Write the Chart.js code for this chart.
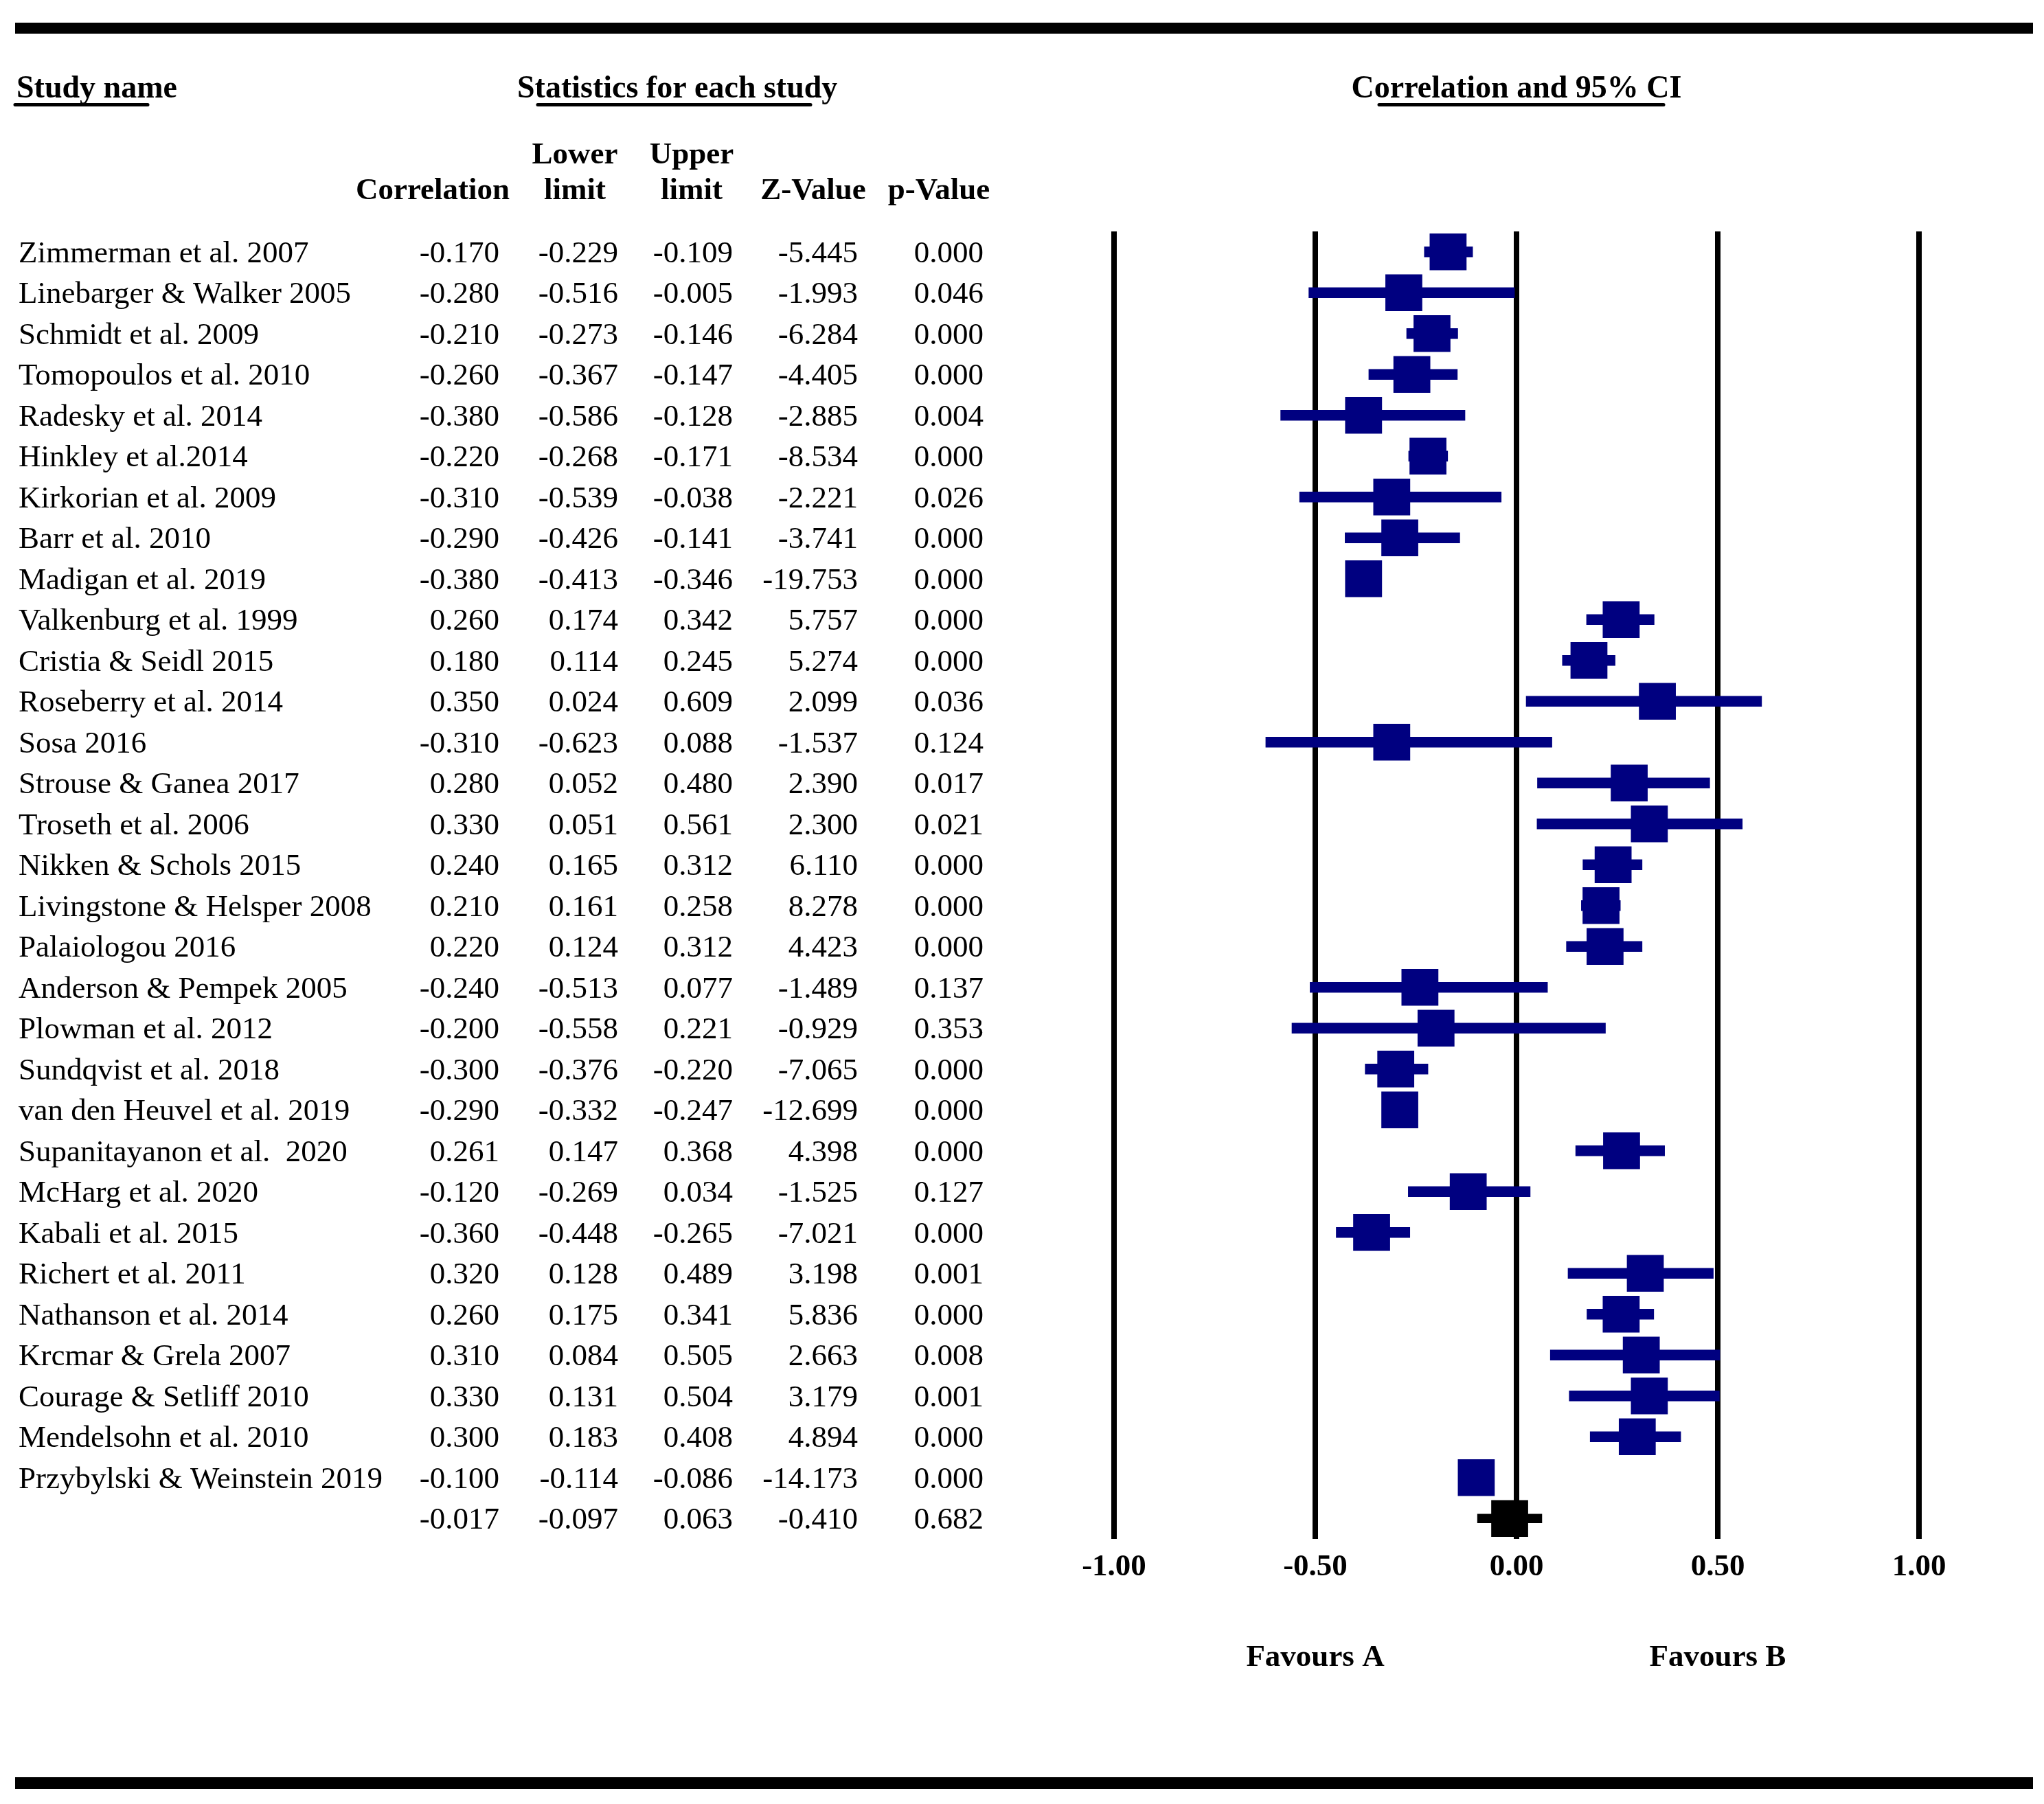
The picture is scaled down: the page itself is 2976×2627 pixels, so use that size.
<!DOCTYPE html>
<html>
<head>
<meta charset="utf-8">
<title>Correlation and 95% CI</title>
<script src="https://cdn.jsdelivr.net/npm/chart.js@4.4.1/dist/chart.umd.min.js"></script>
<style>
  html, body { margin: 0; padding: 0; background: #fff; }
  #forest-chart { display: block; }
</style>
</head>
<body>
<canvas id="forest-chart" width="2976" height="2627"></canvas>
<script>
// ------------------------------------------------------
// @Data (last row = combined effect, no study name)
// ------------------------------------------------------
const studies = [
  'Zimmerman et al. 2007', 'Linebarger & Walker 2005', 'Schmidt et al. 2009', 'Tomopoulos et al. 2010',
  'Radesky et al. 2014', 'Hinkley et al.2014', 'Kirkorian et al. 2009', 'Barr et al. 2010',
  'Madigan et al. 2019', 'Valkenburg et al. 1999', 'Cristia & Seidl 2015', 'Roseberry et al. 2014',
  'Sosa 2016', 'Strouse & Ganea 2017', 'Troseth et al. 2006', 'Nikken & Schols 2015',
  'Livingstone & Helsper 2008', 'Palaiologou 2016', 'Anderson & Pempek 2005', 'Plowman et al. 2012',
  'Sundqvist et al. 2018', 'van den Heuvel et al. 2019', 'Supanitayanon et al.  2020', 'McHarg et al. 2020',
  'Kabali et al. 2015', 'Richert et al. 2011', 'Nathanson et al. 2014', 'Krcmar & Grela 2007',
  'Courage & Setliff 2010', 'Mendelsohn et al. 2010', 'Przybylski & Weinstein 2019', '',
];
const correlation = [
  -0.170, -0.280, -0.210, -0.260, -0.380, -0.220, -0.310, -0.290, -0.380, 0.260, 0.180, 0.350,
  -0.310, 0.280, 0.330, 0.240, 0.210, 0.220, -0.240, -0.200, -0.300, -0.290, 0.261, -0.120,
  -0.360, 0.320, 0.260, 0.310, 0.330, 0.300, -0.100, -0.017,
];
const lowerLimit = [
  -0.229, -0.516, -0.273, -0.367, -0.586, -0.268, -0.539, -0.426, -0.413, 0.174, 0.114, 0.024,
  -0.623, 0.052, 0.051, 0.165, 0.161, 0.124, -0.513, -0.558, -0.376, -0.332, 0.147, -0.269,
  -0.448, 0.128, 0.175, 0.084, 0.131, 0.183, -0.114, -0.097,
];
const upperLimit = [
  -0.109, -0.005, -0.146, -0.147, -0.128, -0.171, -0.038, -0.141, -0.346, 0.342, 0.245, 0.609,
  0.088, 0.480, 0.561, 0.312, 0.258, 0.312, 0.077, 0.221, -0.220, -0.247, 0.368, 0.034,
  -0.265, 0.489, 0.341, 0.505, 0.504, 0.408, -0.086, 0.063,
];
const zValue = [
  -5.445, -1.993, -6.284, -4.405, -2.885, -8.534, -2.221, -3.741, -19.753, 5.757, 5.274, 2.099,
  -1.537, 2.390, 2.300, 6.110, 8.278, 4.423, -1.489, -0.929, -7.065, -12.699, 4.398, -1.525,
  -7.021, 3.198, 5.836, 2.663, 3.179, 4.894, -14.173, -0.410,
];
const pValue = [
  0.000, 0.046, 0.000, 0.000, 0.004, 0.000, 0.026, 0.000, 0.000, 0.000, 0.000, 0.036,
  0.124, 0.017, 0.021, 0.000, 0.000, 0.000, 0.137, 0.353, 0.000, 0.000, 0.000, 0.127,
  0.000, 0.001, 0.000, 0.008, 0.001, 0.000, 0.000, 0.682,
];
const headerTop = ['', 'Lower', 'Upper', '', ''];
const headerBottom = ['Correlation', 'limit', 'limit', 'Z-Value', 'p-Value'];
const favours = ['Favours A', 'Favours B'];
const favoursAt = [-0.5, 0.5];

// ------------------------------------------------------
// @Styles / layout
// ------------------------------------------------------
const NAVY = '#000080';
const SERIF = '"Liberation Serif", "Times New Roman", serif';
const summaryRow = studies.length - 1;
const colRight = [727, 900, 1067, 1249, 1432];
const headCenter = [630, 837, 1007, 1184, 1367];

const studyBars = lowerLimit.map((lo, i) => (i === summaryRow ? null : [lo, upperLimit[i]]));
const summaryBars = lowerLimit.map((lo, i) => (i === summaryRow ? [lo, upperLimit[i]] : null));
const points = correlation.map((r, i) => ({ x: r, y: studies[i] }));

const tablePlugin = {
  id: 'forestTable',
  beforeDraw(chart) {
    const ctx = chart.ctx;
    ctx.save();
    ctx.fillStyle = '#fff';
    ctx.fillRect(0, 0, chart.width, chart.height);
    ctx.restore();
  },
  afterDraw(chart) {
    const ctx = chart.ctx;
    const xs = chart.scales.x;
    const ys = chart.scales.y;
    ctx.save();
    ctx.fillStyle = '#000';
    ctx.strokeStyle = '#000';

    // heavy rules top & bottom
    ctx.fillRect(22, 33, 2938, 16);
    ctx.fillRect(22, 2588, 2938, 17);

    // section headers
    ctx.font = 'bold 46px ' + SERIF;
    ctx.textBaseline = 'alphabetic';
    ctx.textAlign = 'left';
    ctx.fillText('Study name', 24, 142);
    ctx.fillText('Statistics for each study', 753, 142);
    ctx.textAlign = 'center';
    ctx.fillText('Correlation and 95% CI', (xs.left + xs.right) / 2, 142);

    ctx.lineWidth = 5;
    ctx.lineCap = 'round';
    [[22, 215], [783, 1180], [2008, 2422]].forEach(([a, b]) => {
      ctx.beginPath();
      ctx.moveTo(a, 152.5);
      ctx.lineTo(b, 152.5);
      ctx.stroke();
    });

    // column headers
    ctx.font = 'bold 45px ' + SERIF;
    headCenter.forEach((cx, c) => {
      ctx.fillText(headerTop[c], cx, 238);
      ctx.fillText(headerBottom[c], cx, 290);
    });

    // rows
    ctx.font = '45px ' + SERIF;
    studies.forEach((name, i) => {
      const base = ys.getPixelForValue(i) + 15;
      ctx.textAlign = 'left';
      ctx.fillText(name, 27, base);
      ctx.textAlign = 'right';
      [correlation, lowerLimit, upperLimit, zValue, pValue].forEach((col, c) => {
        ctx.fillText(col[i].toFixed(3), colRight[c], base);
      });
    });

    // favours labels
    ctx.font = 'bold 45px ' + SERIF;
    ctx.textAlign = 'center';
    favours.forEach((label, k) => {
      ctx.fillText(label, xs.getPixelForValue(favoursAt[k]), 2426);
    });
    ctx.restore();
  },
};

new Chart(document.getElementById('forest-chart').getContext('2d'), {
  type: 'bar',
  data: {
    labels: studies,
    datasets: [{
      type            : 'bar',
      data            : studyBars,
      backgroundColor : NAVY,
      barThickness    : 15,
      grouped         : false,
      order           : 2,
    }, {
      type            : 'bar',
      data            : summaryBars,
      backgroundColor : '#000',
      barThickness    : 13,
      grouped         : false,
      order           : 2,
    }, {
      type            : 'scatter',
      data            : points,
      pointStyle      : 'rect',
      pointRadius     : 38,
      borderWidth     : 0,
      backgroundColor : (c) => (c.dataIndex === summaryRow ? '#000' : NAVY),
      order           : 1,
    }],
  },
  options: {
    indexAxis: 'y',
    responsive: false,
    animation: false,
    events: [],
    layout: {
      padding: { left: 1622, right: 182, top: 337, bottom: 0 },
    },
    plugins: {
      legend: { display: false },
      tooltip: { enabled: false },
    },
    scales: {
      x: {
        type: 'linear',
        min: -1,
        max: 1,
        border: { display: false },
        grid: { color: '#000', lineWidth: 8, drawTicks: false },
        ticks: {
          stepSize: 0.5,
          padding: 14,
          color: '#000',
          font: { family: SERIF, size: 45, weight: 'bold' },
          callback: (v) => Number(v).toFixed(2),
        },
        afterFit: (scale) => { scale.height = 386; },
      },
      y: {
        type: 'category',
        display: false,
        offset: true,
      },
    },
  },
  plugins: [tablePlugin],
});
</script>
</body>
</html>
